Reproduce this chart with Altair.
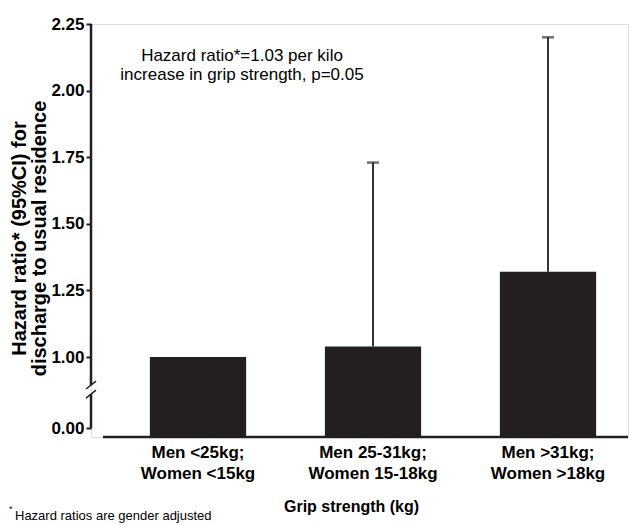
import altair as alt
import pandas as pd

# ---- data ----
categories = ["Men <25kg;\nWomen <15kg", "Men 25-31kg;\nWomen 15-18kg", "Men >31kg;\nWomen >18kg"]
hazard_ratio = [1.00, 1.04, 1.32]
upper_ci = [None, 1.73, 2.20]
tick_labels = [0.00, 1.00, 1.25, 1.50, 1.75, 2.00, 2.25]

# broken axis: values >= 1 are linear, 0.00 is drawn just below the break
BREAK_ZERO = 0.7335   # plotted position of 0.00
AXIS_BASE = 0.70      # plotted position of the x axis line


def pos(v):
    return v if v >= 1 else BREAK_ZERO + v * (1 - BREAK_ZERO)


df = pd.DataFrame({
    "cat": categories,
    "hr": [pos(v) for v in hazard_ratio],
    "base": [AXIS_BASE] * 3,
})
err = pd.DataFrame({
    "cat": [c for c, u in zip(categories, upper_ci) if u is not None],
    "hr": [pos(h) for h, u in zip(hazard_ratio, upper_ci) if u is not None],
    "up": [pos(u) for u in upper_ci if u is not None],
})
tick_pos = [pos(v) for v in tick_labels]

W, H = 537, 413
FONT = "Liberation Sans"
DARK = "#231f20"

xscale = alt.Scale(domain=categories, range=[19.5, 544.5], paddingInner=0.45, paddingOuter=0.225)
yscale = alt.Scale(domain=[AXIS_BASE, 2.25], nice=False, zero=False)

x_enc = alt.X("cat:N", scale=xscale, sort=categories,
              axis=alt.Axis(title="Grip strength (kg)", labelAngle=0, domain=False, ticks=False,
                            labelExpr="split(datum.label, '\\n')", labelFont=FONT,
                            labelFontSize=17, labelFontWeight="bold", labelColor="black",
                            labelLineHeight=21, labelPadding=7, labelBaseline="top",
                            titleFont=FONT, titleFontSize=16, titleFontWeight="bold",
                            titleColor="black", titlePadding=17, titleX=260))

bars = alt.Chart(df).mark_bar(color=DARK).encode(
    x=x_enc,
    y=alt.Y("hr:Q", scale=yscale,
            axis=alt.Axis(values=tick_pos, domain=False, grid=False, tickSize=5, tickWidth=2,
                          tickColor=DARK,
                          labelExpr="datum.value < 0.9 ? '0.00' : format(datum.value, '.2f')",
                          labelFont=FONT, labelFontSize=17, labelFontWeight="bold",
                          labelColor="black", labelPadding=2,
                          title=["Hazard ratio* (95%CI) for", "discharge to usual residence"],
                          titleFont=FONT, titleFontSize=20, titleFontWeight="bold",
                          titleColor="black", titleX=-62, titleY=214, titleAngle=270,
                          titleAlign="center", titleBaseline="bottom", titleLineHeight=20)),
    y2="base:Q",
)

err_line = alt.Chart(err).mark_rule(color="#333333", strokeWidth=2).encode(
    x=alt.X("cat:N", scale=xscale, sort=categories), y=alt.Y("hr:Q", scale=yscale), y2="up:Q")
err_cap = alt.Chart(err).mark_tick(color="#333333", thickness=2.5, size=12, orient="horizontal").encode(
    x=alt.X("cat:N", scale=xscale, sort=categories), y=alt.Y("up:Q", scale=yscale))

# axis lines (y axis with break, x axis)
yaxis_top = alt.Chart(pd.DataFrame({"a": [2.25], "b": [0.895]})).mark_rule(color=DARK, strokeWidth=2.5).encode(
    x=alt.value(0), y=alt.Y("a:Q", scale=yscale), y2="b:Q")
yaxis_bot = alt.Chart(pd.DataFrame({"a": [0.861], "b": [BREAK_ZERO]})).mark_rule(color=DARK, strokeWidth=2.5).encode(
    x=alt.value(0), y=alt.Y("a:Q", scale=yscale), y2="b:Q")
slashes = alt.Chart(pd.DataFrame({"y1": [0.88, 0.846], "y2": [0.91, 0.876]})).mark_rule(color=DARK, strokeWidth=1.5).encode(
    x=alt.value(-5), x2=alt.value(5), y=alt.Y("y1:Q", scale=yscale), y2="y2:Q")
xaxis = alt.Chart(pd.DataFrame({"a": [AXIS_BASE]})).mark_rule(color=DARK, strokeWidth=2.5).encode(
    x=alt.value(12), x2=alt.value(W), y=alt.Y("a:Q", scale=yscale))

annot = alt.Chart(pd.DataFrame({"t": ["Hazard ratio*=1.03 per kilo\nincrease in grip strength, p=0.05"]})).mark_text(
    font=FONT, fontSize=17, lineBreak="\n", lineHeight=19, align="center", baseline="middle", color="black"
).encode(x=alt.value(151), y=alt.value(32), text="t:N")

foot_star = alt.Chart(pd.DataFrame({"t": ["*"]})).mark_text(
    font=FONT, fontSize=9, align="left", baseline="alphabetic", color="black"
).encode(x=alt.value(-82), y=alt.value(488), text="t:N")
foot = alt.Chart(pd.DataFrame({"t": ["Hazard ratios are gender adjusted"]})).mark_text(
    font=FONT, fontSize=13, align="left", baseline="alphabetic", color="black"
).encode(x=alt.value(-76), y=alt.value(496), text="t:N")

chart = alt.layer(bars, err_line, err_cap, yaxis_top, yaxis_bot, slashes, xaxis, annot, foot_star, foot).properties(
    width=W, height=H,
    autosize=alt.AutoSizeParams(type="none"),
    padding={"left": 83, "top": 16, "right": 2, "bottom": 92},
).configure_view(stroke=None).configure(background="white")

chart.save("out.html", embed_options={"renderer": "svg", "actions": False})
